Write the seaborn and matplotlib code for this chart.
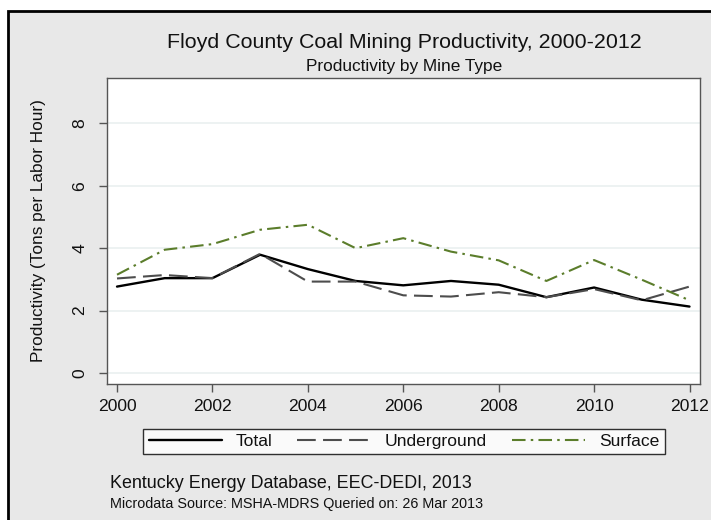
import pandas as pd
import matplotlib.pyplot as plt
import seaborn as sns
from matplotlib.patches import Rectangle
from matplotlib.lines import Line2D

years = list(range(2000, 2013))
total = [2.77, 3.04, 3.04, 3.79, 3.33, 2.95, 2.81, 2.95, 2.83, 2.43, 2.74, 2.35, 2.13]
underground = [3.03, 3.14, 3.04, 3.82, 2.93, 2.93, 2.49, 2.45, 2.59, 2.43, 2.69, 2.33, 2.77]
surface = [3.15, 3.95, 4.13, 4.59, 4.75, 4.00, 4.32, 3.89, 3.61, 2.95, 3.62, 2.99, 2.33]
series_names = ["Total", "Underground", "Surface"]
yticks = [0, 2, 4, 6, 8]
xticks = [2000, 2002, 2004, 2006, 2008, 2010, 2012]

df = pd.DataFrame({
    "year": years * 3,
    "value": total + underground + surface,
    "type": ["Total"] * 13 + ["Underground"] * 13 + ["Surface"] * 13,
})

sns.set_style("white")
plt.rcParams["font.family"] = ["Liberation Sans", "DejaVu Sans"]
plt.rcParams["text.color"] = "#111111"
plt.rcParams["axes.labelcolor"] = "#111111"
plt.rcParams["xtick.color"] = "#111111"
plt.rcParams["ytick.color"] = "#111111"

colors = {"Total": "#000000", "Underground": "#4d4d4d", "Surface": "#5b7d2b"}
dashes = {"Total": "", "Underground": (9, 3.5), "Surface": (6.5, 2.5, 1.2, 2.5)}
widths = {"Total": 1.7, "Underground": 1.5, "Surface": 1.5}

fig = plt.figure(figsize=(7.11, 5.20), dpi=100)
fig.patch.set_facecolor("white")
# gray graph region with black frame
fig.patches.append(Rectangle((8 / 711, -0.05), 1.0, 1 - 11 / 520 + 0.05,
                             transform=fig.transFigure, facecolor="#e8e8e8",
                             edgecolor="black", linewidth=2, zorder=-5))

ax = fig.add_axes([107 / 711, 1 - 384 / 520, (700 - 107) / 711, (384 - 78) / 520])
ax.set_zorder(2)
ax.set_facecolor("white")

sns.lineplot(data=df, x="year", y="value", hue="type", style="type",
             palette=colors, dashes=dashes, ax=ax, legend=False)
for line, name in zip(ax.get_lines(), series_names):
    line.set_linewidth(widths[name])

ax.set_xlim(1999.79, 2012.22)
ax.set_ylim(-0.35, 9.45)
ax.set_xticks(xticks)
ax.set_yticks(yticks)
ax.set_xticklabels([str(x) for x in xticks], fontsize=12.6)
ax.set_yticklabels([str(y) for y in yticks], fontsize=12.6, rotation=90, va="center")
ax.tick_params(axis="both", direction="out", length=6, width=1, color="#555555",
               left=True, bottom=True)
ax.tick_params(axis="x", pad=5)
ax.tick_params(axis="y", pad=8)
ax.grid(axis="y", color="#eaf0f0", linewidth=1.2)
for s in ax.spines.values():
    s.set_color("#555555")
    s.set_linewidth(1)
ax.set_xlabel("")
ax.set_ylabel("Productivity (Tons per Labor Hour)", fontsize=12.4, labelpad=19)

fig.text(404 / 711, 1 - 42 / 520, "Floyd County Coal Mining Productivity, 2000-2012",
         ha="center", va="center", fontsize=15.4)
fig.text(404 / 711, 1 - 66 / 520, "Productivity by Mine Type",
         ha="center", va="center", fontsize=12.4)

handles = [Line2D([], [], color=colors[n], linewidth=widths[n],
                  linestyle="-" if n == "Total" else (0, dashes[n]))
           for n in series_names]
leg = fig.legend(handles, series_names, loc="center", ncol=3,
                 bbox_to_anchor=(404 / 711, 1 - 441.5 / 520), fontsize=12.6,
                 frameon=True, fancybox=False, edgecolor="black", facecolor="white",
                 handlelength=4.2, columnspacing=1.4, borderpad=0.3)
leg.get_frame().set_linewidth(1)

fig.text(110 / 711, 1 - 483 / 520, "Kentucky Energy Database, EEC-DEDI, 2013",
         ha="left", va="center", fontsize=12.9)
fig.text(110 / 711, 1 - 504 / 520, "Microdata Source: MSHA-MDRS Queried on: 26 Mar 2013",
         ha="left", va="center", fontsize=10.4)

fig.savefig("out.png", dpi=100)
